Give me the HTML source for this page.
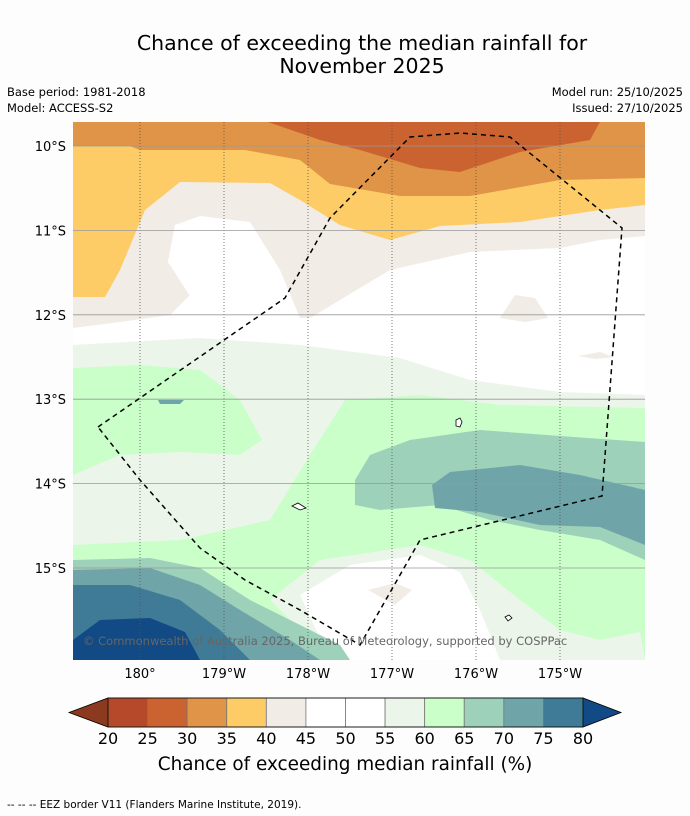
<!DOCTYPE html>
<html><head><meta charset="utf-8"><style>
body{margin:0;background:#fdfdfd;font-family:"DejaVu Sans","Liberation Sans",sans-serif;}
svg{display:block}
</style></head><body>
<svg width="690" height="816" viewBox="0 0 690 816" font-family="DejaVu Sans, Liberation Sans, sans-serif">
<rect width="690" height="816" fill="#fdfdfd"/>
<text x="362" y="50" text-anchor="middle" font-size="20.5" fill="#000">Chance of exceeding the median rainfall for</text>
<text x="362" y="73" text-anchor="middle" font-size="20.5" fill="#000">November 2025</text>
<text x="7" y="96" font-size="11.5">Base period: 1981-2018</text>
<text x="7" y="112" font-size="11.5">Model: ACCESS-S2</text>
<text x="683" y="96" font-size="11.5" text-anchor="end">Model run: 25/10/2025</text>
<text x="683" y="112" font-size="11.5" text-anchor="end">Issued: 27/10/2025</text>
<defs><clipPath id="mc"><rect x="73" y="122" width="572" height="538"/></clipPath></defs>
<g clip-path="url(#mc)">
<rect x="73" y="122" width="572" height="538" fill="#ffffff"/>
<polygon fill="#f1ece6" points="73,122 645,122 645,236 600,240 560,248 470,252 390,270 340,300 310,318 300,318 280,270 250,222 200,216 175,225 168,262 190,295 170,315 120,322 73,328"/>
<polygon fill="#ffffff" points="175,225 200,218 250,224 275,268 298,316 190,296 168,262"/>
<polygon fill="#fdcc66" points="73,122 645,122 645,205 600,210 520,222 440,226 390,240 340,225 300,200 270,183 180,182 145,210 120,270 105,297 73,297"/>
<polygon fill="#e09448" points="73,122 645,122 645,178 560,180 470,196 400,196 330,184 300,160 245,150 140,150 130,146 73,146"/>
<polygon fill="#cb6331" points="268,122 600,122 590,140 520,152 460,172 420,168 360,150 320,140"/>
<polygon fill="#ecf5ea" points="73,345 200,338 300,345 400,358 470,380 560,392 645,395 645,660 73,660"/>
<polygon fill="#caffca" points="73,368 140,365 200,370 240,400 262,440 240,455 180,452 120,455 73,475"/>
<polygon fill="#caffca" points="73,545 180,540 270,520 310,455 345,400 420,395 500,405 645,408 645,660 73,660"/>
<polygon fill="#ecf5ea" points="270,600 320,560 420,545 470,560 520,600 560,630 600,640 640,632 645,660 330,660"/>
<polygon fill="#ffffff" points="300,595 350,565 420,555 460,572 480,610 500,660 330,660"/>
<polygon fill="#f1ece6" points="368,590 395,583 412,590 395,605"/>
<polygon fill="#9dd1b9" points="355,480 370,455 410,440 480,430 560,436 645,442 645,560 600,540 540,530 490,520 440,505 380,510 355,505"/>
<polygon fill="#6fa5a8" points="432,485 450,472 520,465 580,475 645,490 645,545 600,527 540,525 480,512 435,508"/>
<polygon fill="#9dd1b9" points="73,560 150,558 200,568 250,600 300,625 340,645 350,660 73,660"/>
<polygon fill="#6fa5a8" points="73,570 150,568 200,585 240,610 290,640 320,660 73,660"/>
<polygon fill="#3f7a97" points="73,585 130,585 180,600 220,630 250,660 73,660"/>
<polygon fill="#114a84" points="73,640 100,620 150,618 185,632 200,660 73,660"/>
<polygon fill="#f1ece6" points="500,318 515,295 535,298 548,318 525,322"/>
<polygon fill="#f1ece6" points="578,356 600,352 614,357 595,359"/>
<polygon fill="#6fa5a8" points="158,400 184,400 180,404 160,404"/>
<g id="grid"></g>
<polyline fill="none" stroke="#000" stroke-width="1.5" stroke-dasharray="5,4" points="98,427 285,298 330,218 410,137 460,133 510,137 622,228 602,496 420,540 360,645 300,610 245,580 200,548 140,480 98,427"/>
<path d="M456,420 l4,-2 2,4 -2,5 -4,-1 z M292,506 l6,-3 8,5 -6,2 z M505,617 l4,-2 3,3 -4,3 z" fill="#fff" stroke="#000" stroke-width="0.8"/>
<text x="83" y="645" font-size="11.5" fill="#666">© Commonwealth of Australia 2025, Bureau of Meteorology, supported by COSPPac</text>
</g>
<g id="axes"></g>
<g id="cbar"></g>
<text x="345" y="770" text-anchor="middle" font-size="18.4">Chance of exceeding median rainfall (%)</text>
<text x="7" y="808" font-size="10.5">--  --  -- EEZ border V11 (Flanders Marine Institute, 2019).</text>
</svg>
<script>
const lonLabels=["180°","179°W","178°W","177°W","176°W","175°W"];
const lonValues=[180,181,182,183,184,185];
const latLabels=["10°S","11°S","12°S","13°S","14°S","15°S"];
const latValues=[10,11,12,13,14,15];
const cbLevels=[20,25,30,35,40,45,50,55,60,65,70,75,80];
const cbColors=["#b5492a","#cb6331","#e09448","#fdcc66","#f1ece6","#ffffff","#ffffff","#ecf5ea","#caffca","#9dd1b9","#6fa5a8","#3f7a97"];
const NS="http://www.w3.org/2000/svg";
function xLon(l){return 140+(l-180)*84;}
function yLat(l){return 146+(l-10)*84.4;}
function mk(t,a,p){const e=document.createElementNS(NS,t);for(const k in a)e.setAttribute(k,a[k]);p.appendChild(e);return e;}
const grid=document.getElementById('grid'),axes=document.getElementById('axes');
lonValues.forEach((v,i)=>{const x=xLon(v);
const l=mk('line',{x1:x,x2:x,y1:122,y2:660,stroke:'#555','stroke-width':0.8,'stroke-dasharray':'1,2'},grid);


const t=mk('text',{x:x,y:678,'text-anchor':'middle','font-size':13},axes);t.textContent=lonLabels[i];

});
latValues.forEach((v,i)=>{const y=yLat(v);
const l=mk('line',{x1:73,x2:645,y1:y,y2:y,stroke:'#999','stroke-width':0.8},grid);


const t=mk('text',{x:66,y:y+5,'text-anchor':'end','font-size':13},axes);t.textContent=latLabels[i];

});
const cb=document.getElementById('cbar');const x0=108,x1=583,y0=698,y1=727;
const sw=(x1-x0)/(cbLevels.length-1);
mk('polygon',{points:`69,${(y0+y1)/2} ${x0},${y0} ${x0},${y1}`,fill:'#8b3a1f',stroke:'#000','stroke-width':0.8},cb);
mk('polygon',{points:`621,${(y0+y1)/2} ${x1},${y0} ${x1},${y1}`,fill:'#114a84',stroke:'#000','stroke-width':0.8},cb);
cbColors.forEach((c,i)=>{const r=mk('rect',{x:x0+i*sw,y:y0,width:sw,height:y1-y0,fill:c,stroke:'#777','stroke-width':0.8},cb);

});
mk('rect',{x:x0,y:y0,width:x1-x0,height:y1-y0,fill:'none',stroke:'#000','stroke-width':0.8},cb);
cbLevels.forEach((v,i)=>{const t=mk('text',{x:x0+i*sw,y:744,'text-anchor':'middle','font-size':16},cb);t.textContent=v;

});
</script>
</body></html>
